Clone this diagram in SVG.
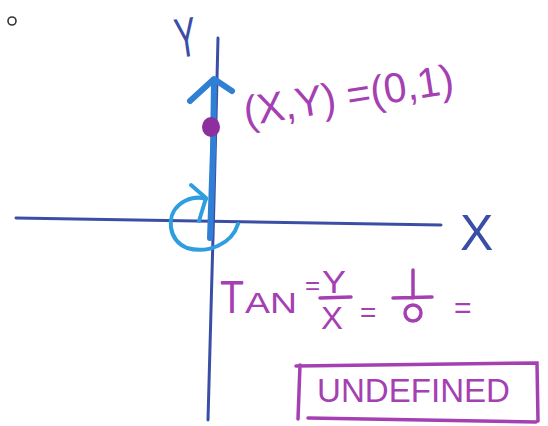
<svg xmlns="http://www.w3.org/2000/svg" width="548" height="426" viewBox="0 0 548 426">
<style>
.axis{stroke:#3b4ea6;stroke-width:3;fill:none;stroke-linecap:round}
.cyan{stroke:#2f9ee0;stroke-width:4;fill:none;stroke-linecap:round;stroke-linejoin:round}
.ray{stroke:#2f7fd4;stroke-width:6;fill:none;stroke-linecap:round;stroke-linejoin:round}
.pen{stroke:#a540b2;fill:none;stroke-width:3.5;stroke-linecap:round}
.ptxt{fill:#a540b2;font-family:"Liberation Sans",Arial,sans-serif}
.btxt{fill:#3b4ea6;font-family:"Liberation Sans",Arial,sans-serif}
</style>
<rect width="548" height="426" fill="#ffffff"/>
<circle cx="12" cy="21" r="4" fill="none" stroke="#333" stroke-width="1.6"/>
<g id="axes">
<path class="axis" d="M16 218 L441 225"/>
<path class="axis" d="M218 38 L214 200 L208 420"/>
</g>
<g id="ray">
<path class="ray" d="M214 80 L213 150 L210 238"/>
<path class="ray" d="M190 101 L214 79 L232 91"/>
<ellipse cx="211" cy="127" rx="9" ry="10" fill="#8e2f9e"/>
</g>
<g id="angle">
<path class="cyan" d="M238 224 C232 244 208 254 187 248 C168 240 166 216 179 205 C187 198 198 196 206 199"/>
<path class="cyan" d="M191 185 L206 198 L199 221"/>
</g>
<g id="labels">
<text class="btxt" font-size="40" transform="translate(178,58) rotate(-8) scale(0.8,1.4)">Y</text>
<text class="btxt" font-size="50" x="460" y="250">X</text>
<text class="ptxt" font-size="42" transform="translate(246,126) rotate(-9)" textLength="212" lengthAdjust="spacingAndGlyphs">(X,Y) =(0,1)</text>
</g>
<g id="tan">
<text class="ptxt" font-size="46" x="220" y="313" textLength="24" lengthAdjust="spacingAndGlyphs">T</text>
<text class="ptxt" font-size="30" x="245" y="313" textLength="52" lengthAdjust="spacingAndGlyphs">AN</text>
<text class="ptxt" font-size="26" x="305" y="294">=</text>
<text class="ptxt" font-size="32" x="322" y="293" textLength="24" lengthAdjust="spacingAndGlyphs">Y</text>
<path class="pen" d="M320 298 L351 297"/>
<text class="ptxt" font-size="32" x="321" y="329" textLength="22" lengthAdjust="spacingAndGlyphs">X</text>
<text class="ptxt" font-size="28" x="360" y="322">=</text>
<path class="pen" d="M413 270 L413 298 M393 298 L432 297"/>
<circle cx="413" cy="313" r="8" class="pen"/>
<text class="ptxt" font-size="30" x="454" y="318">=</text>
</g>
<g id="undefined">
<path class="pen" d="M296 366 L537 363 L538 421 M300 365 L298 419 M308 418 L536 422"/>
<text class="ptxt" font-size="34" x="317" y="402" textLength="193" lengthAdjust="spacingAndGlyphs">UNDEFINED</text>
</g>
</svg>
